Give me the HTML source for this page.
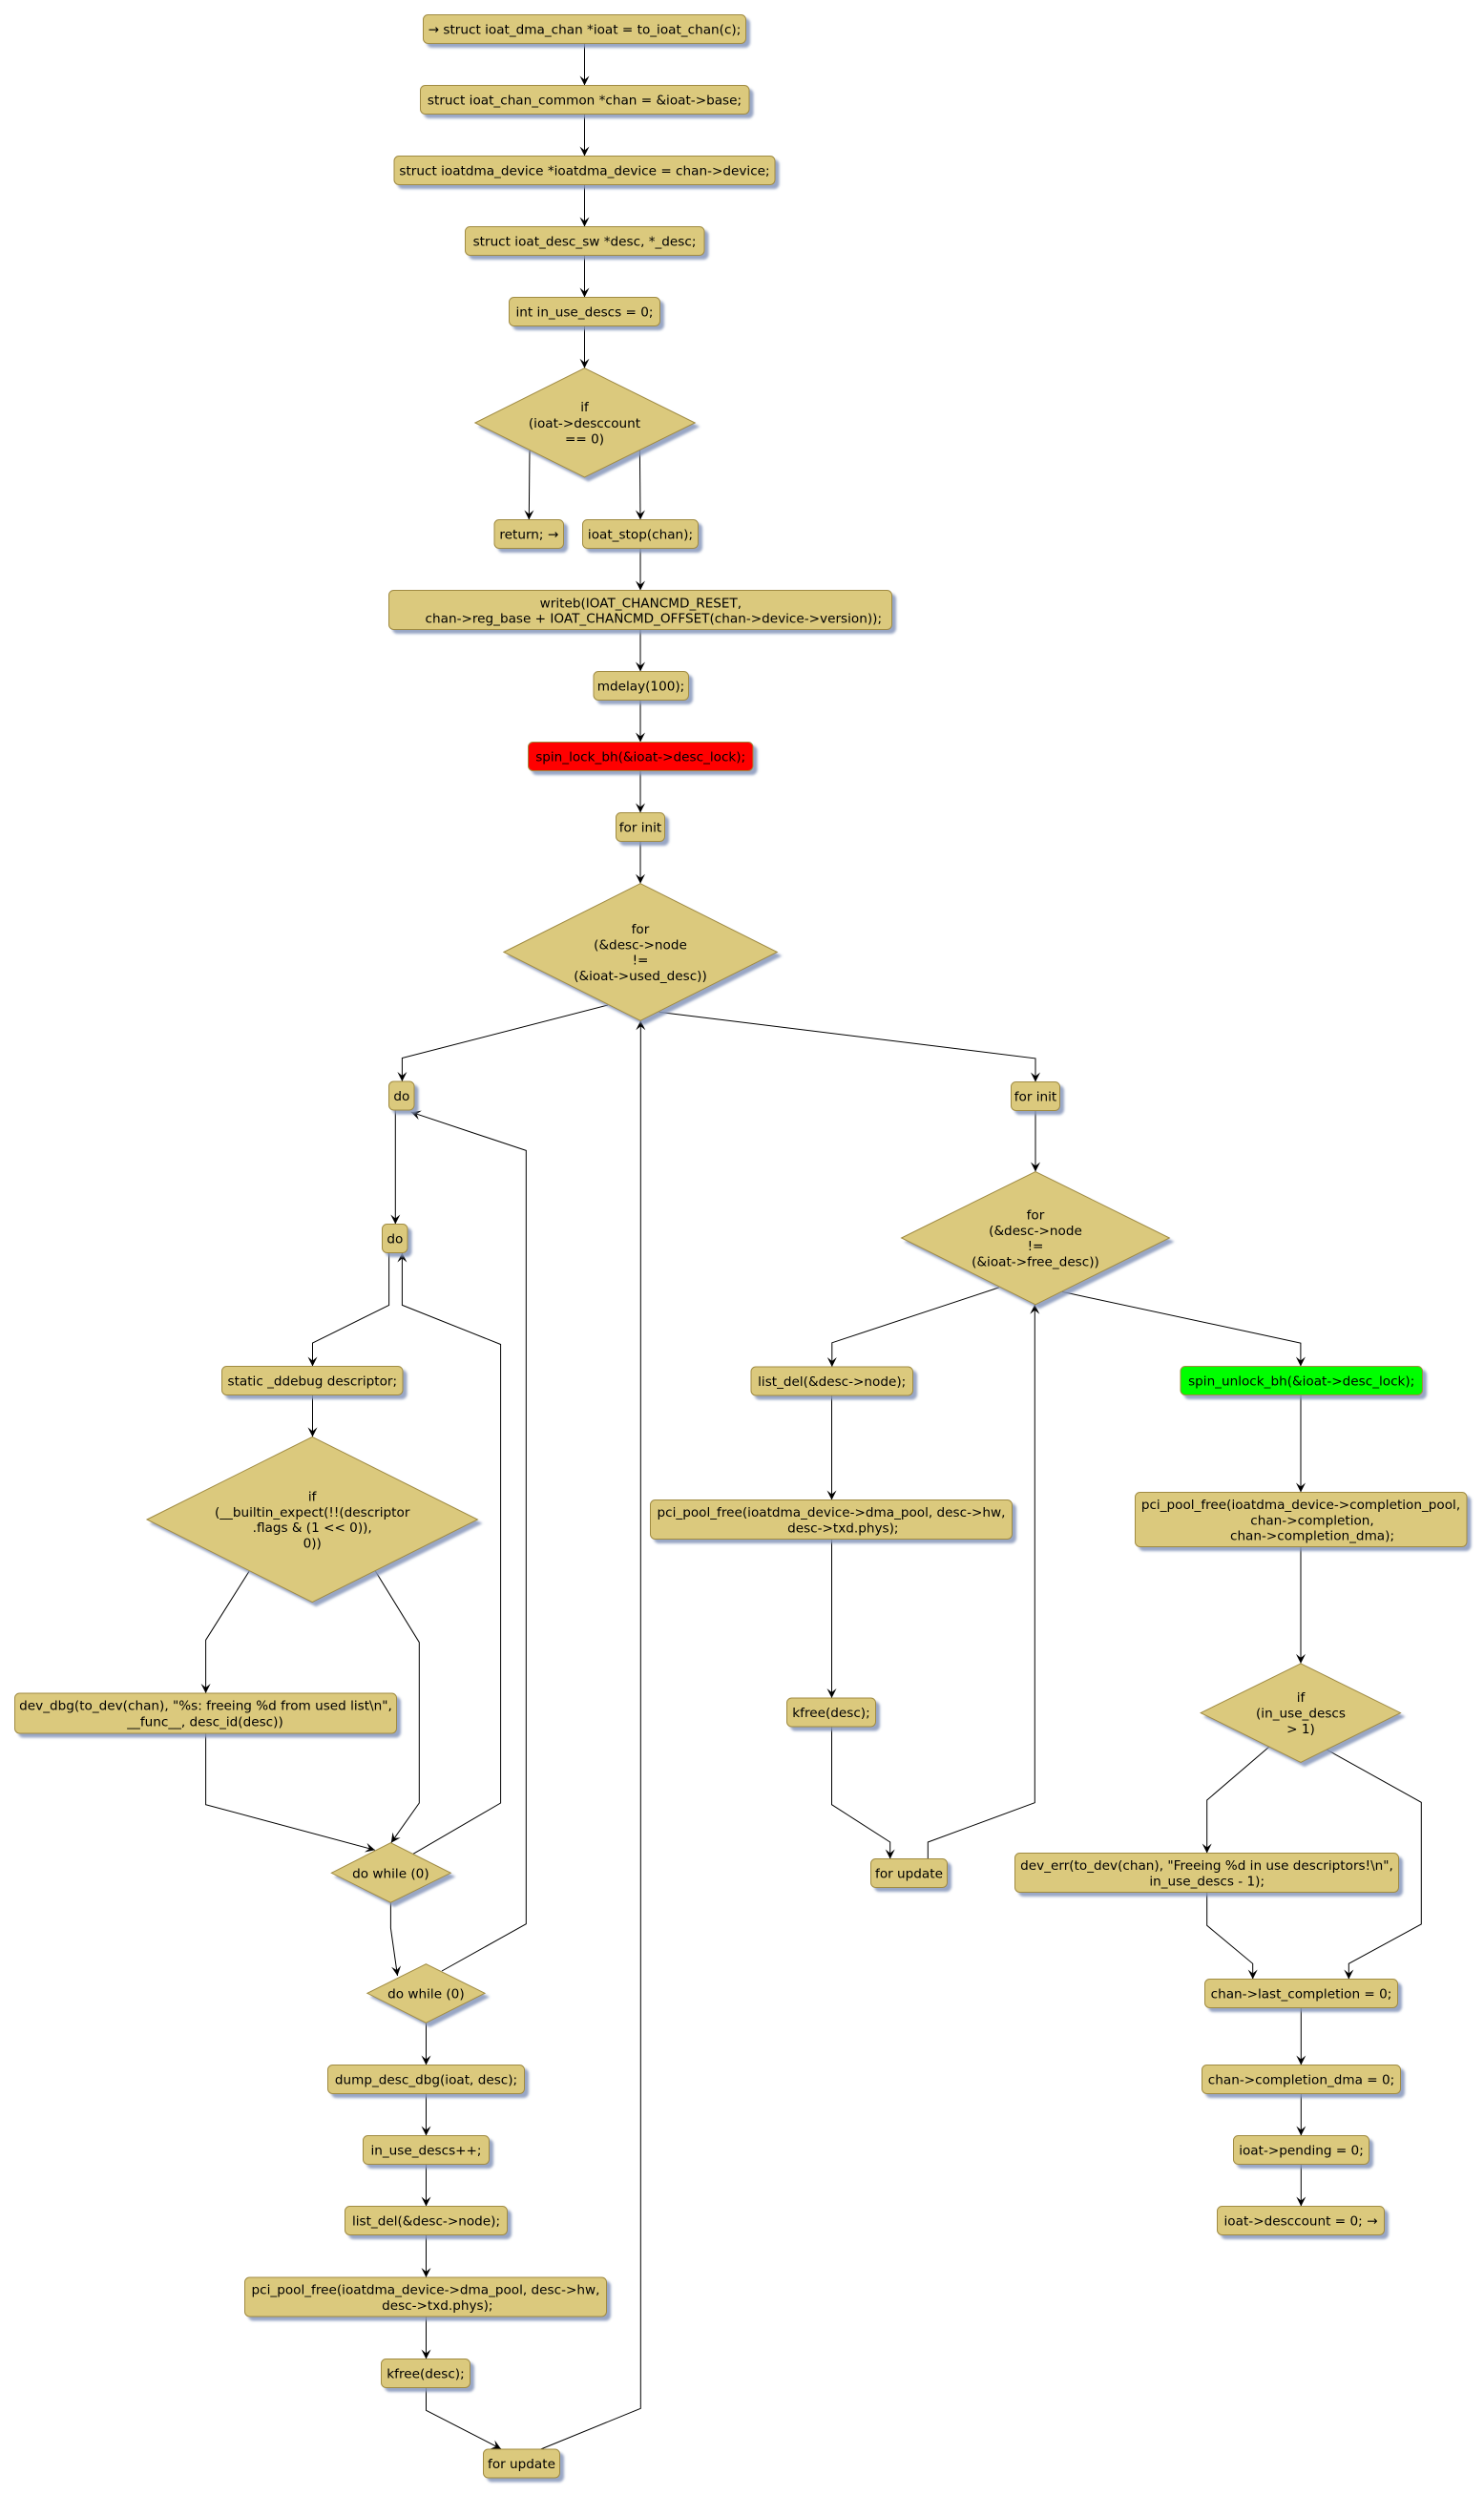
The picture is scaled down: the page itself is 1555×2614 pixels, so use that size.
<!DOCTYPE html>
<html>
<head>
<meta charset="utf-8">
<style>
html,body{margin:0;padding:0;background:#fff;}
svg{display:block;}
text{font-family:"DejaVu Sans","Liberation Sans",sans-serif;font-size:13.6px;fill:#000;text-anchor:middle;}
.n{fill:#DBC97D;stroke:#A08B42;stroke-width:1;}
.r{fill:#FF0000;stroke:#A08B42;stroke-width:1;}
.g{fill:#00FF00;stroke:#A08B42;stroke-width:1;}
.e{fill:none;stroke:#000;stroke-width:1;}
</style>
</head>
<body>
<svg width="1555" height="2614" viewBox="0 0 1555 2614" xmlns="http://www.w3.org/2000/svg">
<defs>
<filter id="sh" x="-5%" y="-10%" width="120%" height="160%">
<feGaussianBlur in="SourceAlpha" stdDeviation="1.3" result="bl"/>
<feOffset in="bl" dx="4" dy="4" result="of"/>
<feFlood flood-color="#8696BA" flood-opacity="0.85"/>
<feComposite in2="of" operator="in" result="shd"/>
<feMerge><feMergeNode in="shd"/><feMergeNode in="SourceGraphic"/></feMerge>
</filter>
<marker id="a" markerWidth="12" markerHeight="12" viewBox="-11 -6 12 12" refX="0" refY="0" orient="auto" markerUnits="userSpaceOnUse">
<path d="M0,0 L-10,-5 L-6,0 L-10,5 Z" fill="#000"/>
</marker>
</defs>
<rect width="1555" height="2614" fill="#fff"/>

<!-- Edges -->
<g class="edges">
<polyline class="e" points="612.5,45.5 612.5,89.5" marker-end="url(#a)"/>
<polyline class="e" points="612.5,119.5 612.5,163.5" marker-end="url(#a)"/>
<polyline class="e" points="612.5,193.5 612.5,237.5" marker-end="url(#a)"/>
<polyline class="e" points="612.5,267.5 612.5,311.5" marker-end="url(#a)"/>
<polyline class="e" points="612.5,341.5 612.5,385.7" marker-end="url(#a)"/>
<polyline class="e" points="555,472 554.3,544.5" marker-end="url(#a)"/>
<polyline class="e" points="670.4,472 671,544.5" marker-end="url(#a)"/>
<polyline class="e" points="671,574.5 671,618.5" marker-end="url(#a)"/>
<polyline class="e" points="671,659.5 671,703.5" marker-end="url(#a)"/>
<polyline class="e" points="671,733.5 671,777.5" marker-end="url(#a)"/>
<polyline class="e" points="671,807.5 671,851.5" marker-end="url(#a)"/>
<polyline class="e" points="671,881.5 671,925.7" marker-end="url(#a)"/>
<polyline class="e" points="637.1,1053 421.4,1108.5 421.4,1133" marker-end="url(#a)"/>
<polyline class="e" points="690.7,1060.4 1085,1108.9 1085,1133.5" marker-end="url(#a)"/>
<polyline class="e" points="414.3,1163 414.3,1282.5" marker-end="url(#a)"/>
<polyline class="e" points="463,2065 551.3,2015.7 551.3,1205.4 430.8,1165.2" marker-end="url(#a)"/>
<polyline class="e" points="407.6,1312.5 407.6,1367.4 327.5,1407.1 327.5,1431.5" marker-end="url(#a)"/>
<polyline class="e" points="433,1942.3 524.6,1889 524.6,1408.5 421.4,1367.4 421.4,1312.5" marker-end="url(#a)"/>
<polyline class="e" points="327.5,1461.5 327.5,1505.4" marker-end="url(#a)"/>
<polyline class="e" points="261.2,1646 215.6,1718.3 215.6,1774" marker-end="url(#a)"/>
<polyline class="e" points="393.3,1646 439.3,1720.7 439.3,1889 409.8,1930.7" marker-end="url(#a)"/>
<polyline class="e" points="215.6,1816 215.6,1890.7 392.9,1938.3" marker-end="url(#a)"/>
<polyline class="e" points="409.4,1993.3 409.4,2020 416.5,2070" marker-end="url(#a)"/>
<polyline class="e" points="446.5,2119.3 446.5,2163.5" marker-end="url(#a)"/>
<polyline class="e" points="446.5,2193.5 446.5,2237.5" marker-end="url(#a)"/>
<polyline class="e" points="446.5,2267.5 446.5,2311.5" marker-end="url(#a)"/>
<polyline class="e" points="446.5,2341.5 446.5,2386" marker-end="url(#a)"/>
<polyline class="e" points="446.5,2427 446.5,2471.5" marker-end="url(#a)"/>
<polyline class="e" points="446.5,2501.5 446.5,2525.3 525,2565.7" marker-end="url(#a)"/>
<polyline class="e" points="566.7,2566 671.3,2523.3 671.3,1069.3" marker-end="url(#a)"/>
<polyline class="e" points="1085,1163.5 1085,1227.5" marker-end="url(#a)"/>
<polyline class="e" points="1046.8,1348.9 871.8,1406.8 871.8,1432" marker-end="url(#a)"/>
<polyline class="e" points="1112.9,1353.4 1362.9,1407.1 1362.9,1431.5" marker-end="url(#a)"/>
<polyline class="e" points="871.5,1462 871.5,1571.5" marker-end="url(#a)"/>
<polyline class="e" points="871.5,1612.5 871.5,1779" marker-end="url(#a)"/>
<polyline class="e" points="871.5,1809 871.5,1890.7 932.7,1930 932.7,1947.5" marker-end="url(#a)"/>
<polyline class="e" points="972.3,1947.5 972.3,1930 1084.3,1888.7 1084.3,1366.8" marker-end="url(#a)"/>
<polyline class="e" points="1363,1461.5 1363,1563.5" marker-end="url(#a)"/>
<polyline class="e" points="1363,1620.5 1363,1742.9" marker-end="url(#a)"/>
<polyline class="e" points="1330,1830 1264.7,1886 1264.7,1941.5" marker-end="url(#a)"/>
<polyline class="e" points="1390,1833 1489.3,1888.3 1489.3,2016 1413.3,2057.3 1413.3,2073.5" marker-end="url(#a)"/>
<polyline class="e" points="1264.7,1982.5 1264.7,2017.3 1312.7,2057.3 1312.7,2073.5" marker-end="url(#a)"/>
<polyline class="e" points="1363.3,2103.5 1363.3,2163.5" marker-end="url(#a)"/>
<polyline class="e" points="1363.3,2193.5 1363.3,2237.5" marker-end="url(#a)"/>
<polyline class="e" points="1363.3,2267.5 1363.3,2311.5" marker-end="url(#a)"/>
</g>

<!-- Nodes -->
<g filter="url(#sh)">
<rect class="n" x="443.5" y="15.5" width="338" height="30" rx="5"/>
<rect class="n" x="440.5" y="89.5" width="344.5" height="30" rx="5"/>
<rect class="n" x="413" y="163.5" width="399" height="30" rx="5"/>
<rect class="n" x="487.5" y="237.5" width="250.5" height="30" rx="5"/>
<rect class="n" x="533.5" y="311.5" width="158" height="30" rx="5"/>
<polygon class="n" points="497.9,443 612.5,385.7 728.2,443 612.5,500"/>
<rect class="n" x="518" y="544.5" width="72.5" height="30" rx="5"/>
<rect class="n" x="610.5" y="544.5" width="121" height="30" rx="5"/>
<rect class="n" x="407.5" y="618.5" width="527" height="41" rx="5"/>
<rect class="n" x="622" y="703.5" width="99.5" height="30" rx="5"/>
<rect class="r" x="553.5" y="777.5" width="235.5" height="30" rx="5"/>
<rect class="n" x="645.5" y="851.5" width="51" height="30" rx="5"/>
<polygon class="n" points="527.9,997.5 671,925.7 814.3,997.5 671,1069.3"/>
<rect class="n" x="407.5" y="1133" width="26.5" height="30" rx="5"/>
<rect class="n" x="400.5" y="1282.5" width="26.5" height="30" rx="5"/>
<rect class="n" x="232.5" y="1431.5" width="189.5" height="30" rx="5"/>
<polygon class="n" points="154,1592 327.2,1505.4 500.4,1592 327.2,1678.6"/>
<rect class="n" x="15.5" y="1774" width="400" height="42" rx="5"/>
<polygon class="n" points="347.3,1962.3 409.4,1930.7 472.3,1962.3 409.4,1993.3"/>
<polygon class="n" points="384.8,2088.3 446.4,2057.7 508,2088.3 446.4,2119.3"/>
<rect class="n" x="343.5" y="2163.5" width="206" height="30" rx="5"/>
<rect class="n" x="380.5" y="2237.5" width="132" height="30" rx="5"/>
<rect class="n" x="361.5" y="2311.5" width="170" height="30" rx="5"/>
<rect class="n" x="256.5" y="2386" width="379" height="41" rx="5"/>
<rect class="n" x="399.5" y="2471.5" width="93" height="30" rx="5"/>
<rect class="n" x="506.5" y="2566" width="80" height="30" rx="5"/>
<rect class="n" x="1059.5" y="1133.5" width="51" height="30" rx="5"/>
<polygon class="n" points="944.6,1297 1085,1227.5 1225.4,1297 1085,1366.8"/>
<rect class="n" x="787" y="1432" width="169.5" height="30" rx="5"/>
<rect class="n" x="681.5" y="1571.5" width="379" height="41" rx="5"/>
<rect class="n" x="824.5" y="1779" width="93" height="30" rx="5"/>
<rect class="n" x="912.5" y="1947.5" width="80" height="30" rx="5"/>
<rect class="g" x="1237" y="1431.5" width="253.5" height="30" rx="5"/>
<rect class="n" x="1189.5" y="1563.5" width="347.5" height="57" rx="5"/>
<polygon class="n" points="1258.2,1794.6 1363,1742.9 1467.5,1794.6 1363,1846.4"/>
<rect class="n" x="1063.5" y="1941.5" width="402" height="41" rx="5"/>
<rect class="n" x="1262.5" y="2073.5" width="202" height="30" rx="5"/>
<rect class="n" x="1259.5" y="2163.5" width="208" height="30" rx="5"/>
<rect class="n" x="1292.5" y="2237.5" width="142" height="30" rx="5"/>
<rect class="n" x="1275.5" y="2311.5" width="175" height="30" rx="5"/>
</g>

<!-- Labels -->
<g>
<text x="612.5" y="35.5">→ struct ioat_dma_chan *ioat = to_ioat_chan(c);</text>
<text x="612.5" y="109.5">struct ioat_chan_common *chan = &amp;ioat-&gt;base;</text>
<text x="612.5" y="183.5">struct ioatdma_device *ioatdma_device = chan-&gt;device;</text>
<text x="612.5" y="257.5">struct ioat_desc_sw *desc, *_desc;</text>
<text x="612.5" y="331.5">int in_use_descs = 0;</text>
<text x="612.5" y="431">if</text>
<text x="612.5" y="448">(ioat-&gt;desccount</text>
<text x="612.5" y="464.5">== 0)</text>
<text x="554.3" y="564.5">return; →</text>
<text x="671" y="564.5">ioat_stop(chan);</text>
<text x="671.4" y="636.5">writeb(IOAT_CHANCMD_RESET,</text>
<text x="684.8" y="652.5">chan-&gt;reg_base + IOAT_CHANCMD_OFFSET(chan-&gt;device-&gt;version));</text>
<text x="671.5" y="723.5">mdelay(100);</text>
<text x="671.2" y="797.5">spin_lock_bh(&amp;ioat-&gt;desc_lock);</text>
<text x="671" y="871.5">for init</text>
<text x="671" y="977.9">for</text>
<text x="671" y="994.3">(&amp;desc-&gt;node</text>
<text x="671" y="1010.7">!=</text>
<text x="671" y="1027.1">(&amp;ioat-&gt;used_desc))</text>
<text x="420.8" y="1153">do</text>
<text x="413.8" y="1302.5">do</text>
<text x="327.3" y="1451.5">static _ddebug descriptor;</text>
<text x="327.2" y="1572.4">if</text>
<text x="327.2" y="1588.8">(__builtin_expect(!!(descriptor</text>
<text x="327.2" y="1605.2">.flags &amp; (1 &lt;&lt; 0)),</text>
<text x="327.2" y="1621.6">0))</text>
<text x="215.5" y="1791.5">dev_dbg(to_dev(chan), "%s: freeing %d from used list\n",</text>
<text x="215" y="1808.5">__func__, desc_id(desc))</text>
<text x="409.4" y="1967.3">do while (0)</text>
<text x="446.4" y="2093.3">do while (0)</text>
<text x="446.5" y="2183.5">dump_desc_dbg(ioat, desc);</text>
<text x="446.5" y="2257.5">in_use_descs++;</text>
<text x="446.5" y="2331.5">list_del(&amp;desc-&gt;node);</text>
<text x="446" y="2403.5">pci_pool_free(ioatdma_device-&gt;dma_pool, desc-&gt;hw,</text>
<text x="458.3" y="2419.8">desc-&gt;txd.phys);</text>
<text x="446" y="2491.5">kfree(desc);</text>
<text x="546.5" y="2586">for update</text>
<text x="1085" y="1153.5">for init</text>
<text x="1085" y="1277.4">for</text>
<text x="1085" y="1293.8">(&amp;desc-&gt;node</text>
<text x="1085" y="1310.2">!=</text>
<text x="1085" y="1326.6">(&amp;ioat-&gt;free_desc))</text>
<text x="871.7" y="1452">list_del(&amp;desc-&gt;node);</text>
<text x="871" y="1589">pci_pool_free(ioatdma_device-&gt;dma_pool, desc-&gt;hw,</text>
<text x="883.3" y="1605.3">desc-&gt;txd.phys);</text>
<text x="871" y="1799">kfree(desc);</text>
<text x="952.5" y="1967.5">for update</text>
<text x="1363.7" y="1451.5">spin_unlock_bh(&amp;ioat-&gt;desc_lock);</text>
<text x="1363" y="1581.2">pci_pool_free(ioatdma_device-&gt;completion_pool,</text>
<text x="1375" y="1597.3">chan-&gt;completion,</text>
<text x="1375" y="1613.3">chan-&gt;completion_dma);</text>
<text x="1363" y="1783.2">if</text>
<text x="1363" y="1799.6">(in_use_descs</text>
<text x="1363" y="1816">&gt; 1)</text>
<text x="1264.5" y="1959.2">dev_err(to_dev(chan), "Freeing %d in use descriptors!\n",</text>
<text x="1264.7" y="1975.3">in_use_descs - 1);</text>
<text x="1363.5" y="2093.5">chan-&gt;last_completion = 0;</text>
<text x="1363.5" y="2183.5">chan-&gt;completion_dma = 0;</text>
<text x="1363.5" y="2257.5">ioat-&gt;pending = 0;</text>
<text x="1363" y="2331.5">ioat-&gt;desccount = 0; →</text>
</g>
</svg>
</body>
</html>
